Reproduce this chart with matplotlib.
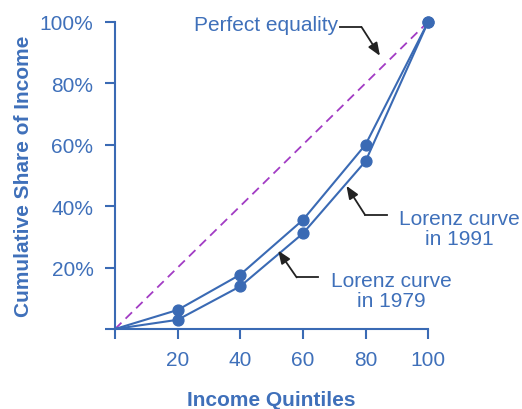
import matplotlib.pyplot as plt

# Lorenz curves for household income, 1979 vs 1991
quintiles = [0, 20, 40, 60, 80, 100]
share_1979 = [0, 6.2, 17.7, 35.5, 60.0, 100]
share_1991 = [0, 3.0, 13.9, 31.1, 54.6, 100]
equality = [0, 20, 40, 60, 80, 100]

x_ticks = [0, 20, 40, 60, 80, 100]
x_tick_labels = ["", "20", "40", "60", "80", "100"]
y_ticks = [0, 20, 40, 60, 80, 100]
y_tick_labels = ["", "20%", "40%", "60%", "80%", "100%"]

BLUE = "#3a6ab4"
TEXT_BLUE = "#3f70ba"
PURPLE = "#a23cc4"
ARROW = "#222222"

plt.rcParams["font.family"] = ["Liberation Sans", "DejaVu Sans"]

fig = plt.figure(figsize=(5.22, 4.10), dpi=100)
ax = fig.add_axes([0.2203, 0.1951, 0.6000, 0.7495])

# perfect equality diagonal
ax.plot(quintiles, equality, color=PURPLE, lw=1.3, dashes=(5, 3.2), clip_on=False)

for share in (share_1979, share_1991):
    ax.plot(quintiles, share, color=BLUE, lw=1.5, marker="o", markersize=7.8,
            markevery=slice(1, None), clip_on=False, zorder=3)

ax.set_xlim(0, 100)
ax.set_ylim(0, 100)

for side in ("top", "right"):
    ax.spines[side].set_visible(False)
for side in ("left", "bottom"):
    ax.spines[side].set_color(BLUE)
    ax.spines[side].set_linewidth(1.5)

ax.set_xticks(x_ticks)
ax.set_xticklabels(x_tick_labels)
ax.set_yticks(y_ticks)
ax.set_yticklabels(y_tick_labels)
ax.tick_params(axis="both", direction="out", length=7.5, width=1.5, color=BLUE,
               labelcolor=TEXT_BLUE, labelsize=15)
ax.tick_params(axis="x", pad=7.5)
ax.tick_params(axis="y", pad=8)

ax.set_xlabel("Income Quintiles", fontsize=15, fontweight="bold", color=TEXT_BLUE, labelpad=15)
ax.set_ylabel("Cumulative Share of Income", fontsize=15, fontweight="bold", color=TEXT_BLUE, labelpad=5)

# callouts: label, horizontal leader, then arrow to the curve
arrow_props = dict(arrowstyle="-|>,head_length=0.55,head_width=0.22", color=ARROW, lw=1.3,
                   mutation_scale=14, shrinkA=0, shrinkB=0)

ax.text(71.2, 99.0, "Perfect equality", ha="right", va="center", fontsize=15, color=TEXT_BLUE)
ax.plot([71.8, 78.7], [98.3, 98.3], color=ARROW, lw=1.3, clip_on=False)
ax.annotate("", xy=(84.6, 88.9), xytext=(78.7, 98.3), arrowprops=arrow_props)

ax.text(109.9, 32.8, "Lorenz curve\nin 1991", ha="center", va="center", fontsize=15,
        color=TEXT_BLUE, linespacing=1.05)
ax.plot([86.7, 79.8], [37.2, 37.2], color=ARROW, lw=1.3, clip_on=False)
ax.annotate("", xy=(73.9, 46.6), xytext=(79.8, 37.2), arrowprops=arrow_props)

ax.text(88.1, 12.5, "Lorenz curve\nin 1979", ha="center", va="center", fontsize=15,
        color=TEXT_BLUE, linespacing=1.05)
ax.plot([64.9, 58.0], [16.8, 16.8], color=ARROW, lw=1.3, clip_on=False)
ax.annotate("", xy=(52.1, 25.5), xytext=(58.0, 16.8), arrowprops=arrow_props)

fig.savefig("out.png", dpi=100)
plt.close(fig)
